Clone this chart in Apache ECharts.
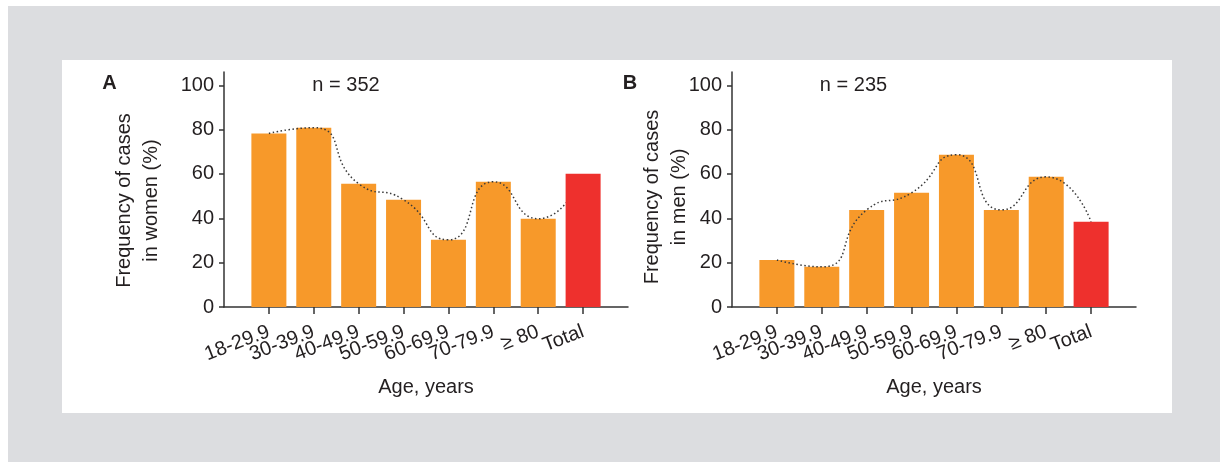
<!DOCTYPE html>
<html>
<head>
<meta charset="utf-8">
<script src="https://cdn.jsdelivr.net/npm/echarts@6/dist/echarts.min.js"></script>
<style>
  html, body { margin: 0; padding: 0; background: #ffffff; }
  #bg { position: absolute; left: 8px; top: 6px; width: 1212px; height: 456px; background: #dcdde0; }
  #panel { position: absolute; left: 62px; top: 60px; width: 1110px; height: 353px; background: #ffffff; }
  #chart { position: absolute; left: 0; top: 0; width: 1220px; height: 462px; }
</style>
</head>
<body>
<div id="bg"></div>
<div id="panel"></div>
<div id="chart"></div>
<script>
// ---- data ----
const categories = ['18-29.9', '30-39.9', '40-49.9', '50-59.9', '60-69.9', '70-79.9', '\u2265 80', 'Total'];
const womenValues = [78.3, 80.9, 55.6, 48.4, 30.3, 56.5, 39.8, 60.1];
const menValues   = [21.2, 18.1, 43.8, 51.5, 68.7, 43.8, 58.7, 38.4];
const yTicks = [0, 20, 40, 60, 80, 100];
const panelLetters = ['A', 'B'];
const sampleSizes = ['n = 352', 'n = 235'];
const yNames = ['Frequency of cases\nin women (%)', 'Frequency of cases\nin men (%)'];
const xName = 'Age, years';

// ---- styling ----
const FONT = "'Liberation Sans', Arial, Helvetica, sans-serif";
const TXT = '#231f20';
const AXIS = '#333333';
const ORANGE = '#f7992a';
const RED = '#ee302d';
const totalIdx = categories.length - 1;
// padded category list: an empty slot before the first group and after Total
const axisCats = [''].concat(categories, ['']);
const pad = arr => [null].concat(arr, [null]);

function xAxisCfg(gridIndex) {
  return {
    type: 'category', gridIndex, data: axisCats, boundaryGap: false,
    name: xName, nameLocation: 'middle', nameGap: 70, nameMoveOverlap: false,
    nameTextStyle: { fontFamily: FONT, fontSize: 20, color: TXT, lineHeight: 20 },
    axisLine: { show: true, onZero: false, lineStyle: { color: AXIS, width: 1.5 } },
    axisTick: { show: true, length: 7, interval: (i, v) => v !== '', lineStyle: { color: AXIS, width: 1.5 } },
    axisLabel: {
      interval: 0, rotate: 21, margin: 24, hideOverlap: false,
      fontFamily: FONT, fontSize: 20, color: TXT
    },
    splitLine: { show: false }
  };
}
function yAxisCfg(gridIndex, name, gap, shift) {
  return {
    type: 'value', gridIndex, min: 0, max: 106,
    name, nameLocation: 'middle', nameGap: gap, nameMoveOverlap: false,
    nameTextStyle: { fontFamily: FONT, fontSize: 20, color: TXT, lineHeight: 27, padding: [0, shift, 0, 0] },
    axisLine: { show: true, onZero: false, lineStyle: { color: AXIS, width: 1.5 } },
    axisTick: { show: true, length: 5, customValues: yTicks, lineStyle: { color: AXIS, width: 1.5 } },
    axisLabel: { customValues: yTicks, margin: 10, fontFamily: FONT, fontSize: 20, color: TXT },
    splitLine: { show: false }
  };
}
function seriesFor(values, idx) {
  const ageBars = pad(values.map((v, i) => (i < totalIdx ? v : null)));
  const totalBar = pad(values.map((v, i) => (i === totalIdx ? v : null)));
  return [
    { type: 'bar', xAxisIndex: idx, yAxisIndex: idx, data: ageBars, barWidth: 35, barGap: '-100%',
      itemStyle: { color: ORANGE }, z: 2, silent: true },
    { type: 'line', xAxisIndex: idx, yAxisIndex: idx, data: pad(values),
      smooth: 0.6, symbol: 'none', z: 3, silent: true,
      lineStyle: { color: '#3a3a3a', width: 1.5, type: [1.5, 2.5] } },
    { type: 'bar', xAxisIndex: idx, yAxisIndex: idx, data: totalBar, barWidth: 35, barGap: '-100%',
      itemStyle: { color: RED }, z: 4, silent: true }
  ];
}

const chart = echarts.init(document.getElementById('chart'), null, { renderer: 'canvas' });
chart.setOption({
  animation: false,
  backgroundColor: 'transparent',
  textStyle: { fontFamily: FONT },
  grid: [
    { left: 224, top: 72, width: 404, height: 235, outerBoundsMode: 'none', containLabel: false },
    { left: 732, top: 72, width: 404, height: 235, outerBoundsMode: 'none', containLabel: false }
  ],
  xAxis: [xAxisCfg(0), xAxisCfg(1)],
  yAxis: [yAxisCfg(0, yNames[0], 59, 22), yAxisCfg(1, yNames[1], 39, 15)],
  graphic: [
    { type: 'text', x: 109.5, y: 83, style: { text: panelLetters[0], font: 'bold 20px ' + FONT, fill: TXT, textAlign: 'center', textVerticalAlign: 'middle' } },
    { type: 'text', x: 630, y: 83, style: { text: panelLetters[1], font: 'bold 20px ' + FONT, fill: TXT, textAlign: 'center', textVerticalAlign: 'middle' } },
    { type: 'text', x: 346, y: 85.5, style: { text: sampleSizes[0], font: '20px ' + FONT, fill: TXT, textAlign: 'center', textVerticalAlign: 'middle' } },
    { type: 'text', x: 853.5, y: 85, style: { text: sampleSizes[1], font: '20px ' + FONT, fill: TXT, textAlign: 'center', textVerticalAlign: 'middle' } }
  ],
  series: [].concat(seriesFor(womenValues, 0), seriesFor(menValues, 1))
});
</script>
</body>
</html>
